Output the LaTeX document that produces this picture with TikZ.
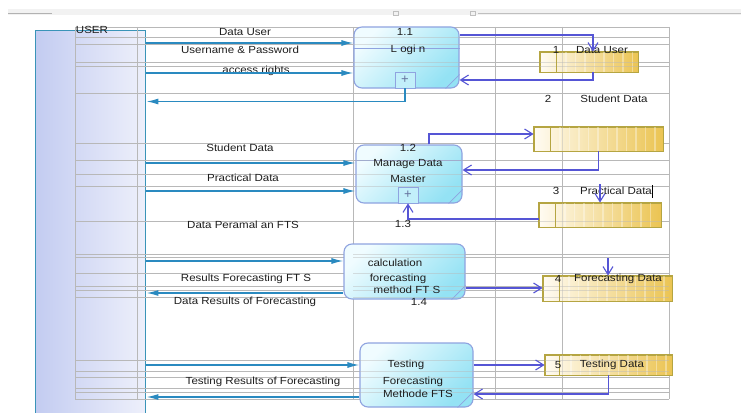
\documentclass[tikz,border=0pt]{standalone}
\usepackage{fontspec}
\setmainfont{Liberation Sans}
\usetikzlibrary{arrows.meta}
\definecolor{gridc}{HTML}{B8B8B8}
\definecolor{teal1}{HTML}{2A8AC0}
\definecolor{purp}{HTML}{5555D5}
\definecolor{procA}{HTML}{F0FCFF}
\definecolor{procB}{HTML}{94E2F4}
\definecolor{procE}{HTML}{8FA3E0}
\definecolor{storeA}{HTML}{FFFBF2}
\definecolor{storeB}{HTML}{EBC452}
\definecolor{storeE}{HTML}{B5A542}
\definecolor{userA}{HTML}{C3CCF1}
\definecolor{userB}{HTML}{EEF0FB}
\definecolor{userE}{HTML}{3A94B8}
\definecolor{txt}{HTML}{1E1E1E}
\newcommand\tx[1]{\scalebox{1.12}[1]{#1}}
\begin{document}
\begin{tikzpicture}[x=1pt,y=-1pt,
 lbl/.style={font=\fontsize{10.3}{12}\selectfont, text=txt, inner sep=0pt},
 gridln/.style={draw=gridc, line width=0.6pt},
 flow/.style={draw=teal1, line width=1.4pt, -{Latex[length=12pt,width=6pt]}},
 dflow/.style={draw=purp, line width=1.1pt, -{Straight Barb[length=8pt,width=10pt]}},
 proc/.style={draw=procE, line width=1.1pt, rounded corners=8pt, top color=procA, bottom color=procB, shading angle=45, inner sep=0pt},
 store/.style={draw=storeE, line width=0.9pt, left color=storeA, right color=storeB, inner sep=0pt},
 plusbox/.style={draw=procE, line width=0.8pt, minimum width=20pt, minimum height=16pt, inner sep=0pt, fill=procA!50!procB, text=procE!70!black, font=\fontsize{13}{13}\selectfont},
 grip/.style={draw=procE, line width=0.8pt}
]
\useasboundingbox (0,0) rectangle (741,412);
\fill[white] (0,0) rectangle (741,412);
% top bar
\fill[gray!10] (8,9) rectangle (741,15);
\draw[gray!60, line width=0.8pt] (8,13) -- (52,13);
\draw[gray!50, line width=0.6pt] (478,13) -- (741,13);
\draw[gray!50, line width=0.5pt] (393,11) rectangle (398,15) (470,11) rectangle (475,15);

% external entity
\node[draw=userE, line width=1.4pt, left color=userA, right color=userB, minimum width=110pt, minimum height=390pt, inner sep=0pt, anchor=north west] (user) at (35,30) {};

% grid
\foreach \gx in {75,137,353,495,562,669} \draw[gridln] (\gx,27) -- (\gx,399);
\foreach \gy in {27,37,44,62,66,93,143,160,174,186,221,254,257,273,286,290,297,360,371,377,388,392,399}
  \draw[gridln] (75,\gy) -- (669,\gy);

\node[lbl, anchor=north] (uname) at (92,26.5) {\tx{USER}};

% processes
\node[proc, minimum width=105pt, minimum height=61pt] (p11) at (406.5,57.5) {};
\draw[procE, line width=0.8pt] (p11.west |- 0,48) -- (p11.east |- 0,48);
\node[plusbox] (pl1) at (405,80) {+};
\draw[grip] ([xshift=-14pt]p11.south east) -- ([yshift=14pt]p11.south east);

\node[proc, minimum width=106pt, minimum height=58pt] (p12) at (409,174) {};
\draw[procE, line width=0.8pt] (p12.west |- 0,160) -- (p12.east |- 0,160);
\node[plusbox] (pl2) at (408,195) {+};
\draw[grip] ([xshift=-14pt]p12.south east) -- ([yshift=14pt]p12.south east);

\node[proc, minimum width=121pt, minimum height=55pt] (p14) at (404.5,271.5) {};
\draw[grip] ([xshift=-14pt]p14.south east) -- ([yshift=14pt]p14.south east);

\node[proc, minimum width=113pt, minimum height=64pt] (p15) at (416.5,375) {};
\draw[grip] ([xshift=-16pt]p15.south east) -- ([yshift=16pt]p15.south east);

% data stores
\node[store, minimum width=98pt, minimum height=20pt] (s1) at (589,62) {};
\node[store, minimum width=129pt, minimum height=24pt] (s2) at (598.5,139) {};
\node[store, minimum width=122pt, minimum height=24pt] (s3) at (600,215) {};
\node[store, minimum width=129pt, minimum height=25pt] (s4) at (607.5,288.5) {};
\node[store, minimum width=127pt, minimum height=20pt] (s5) at (608.5,365) {};
\foreach \s/\n in {s1/8,s2/11,s3/10,s4/11,s5/11}{
  \foreach \i in {1,...,\n}
    \draw[white, opacity=0.35, line width=1.2pt] ([xshift=17pt+\i*9.5pt]\s.north west) -- ([xshift=17pt+\i*9.5pt]\s.south west);
}

% grid seen through the shapes
\begin{scope}[opacity=0.45]
\foreach \gx in {562} \draw[gridln] (\gx,27) -- (\gx,399);
\foreach \gy in {37,44,62,66,160,174,186,221,254,257,273,286,290,297,360,371,377,388,392}
  \draw[gridln] (353,\gy) -- (669,\gy);
\end{scope}

\foreach \s in {s1,s2,s3,s4,s5}
  \draw[storeE, line width=0.9pt] (\s.north west) rectangle (\s.south east);
\foreach \s/\d in {s1/17,s2/17,s3/17,s4/17,s5/15}
  \draw[storeE, line width=0.9pt] ([xshift=\d pt]\s.north west) -- ([xshift=\d pt]\s.south west);

% labels on flows (left)
\node[lbl] (t1) at (245,32) {\tx{Data User}};
\node[lbl] (t2) at (240,50) {\tx{Username \& Password}};
\node[lbl] (t3) at (256,71) {\tx{access rights}};
\node[lbl] (t4) at (240,148) {\tx{Student Data}};
\node[lbl] (t5) at (243,178) {\tx{Practical Data}};
\node[lbl] (t6) at (243,225) {\tx{Data Peramal an FTS}};
\node[lbl] (t7) at (246,279) {\tx{Results Forecasting FT S}};
\node[lbl] (t8) at (245,302) {\tx{Data Results of Forecasting}};
\node[lbl] (t9) at (263,382) {\tx{Testing Results of Forecasting}};

% process texts
\node[lbl] (a1) at (405,32) {\tx{1.1}};
\node[lbl] (a2) at (408,50) {\tx{L ogi n}};
\node[lbl] (b1) at (408,148) {\tx{1.2}};
\node[lbl] (b2) at (408,164) {\tx{Manage Data}};
\node[lbl] (b3) at (408,179) {\tx{Master}};
\node[lbl] (b4) at (403,224) {\tx{1.3}};
\node[lbl] (c1) at (395,263) {\tx{calculation}};
\node[lbl] (c2) at (398,279) {\tx{forecasting}};
\node[lbl] (c3t) at (407,290) {\tx{method FT S}};
\node[lbl] (c4t) at (419,302) {\tx{1.4}};
\node[lbl] (d1) at (406,365) {\tx{Testing}};
\node[lbl] (d2) at (413,382) {\tx{Forecasting}};
\node[lbl] (d3) at (418,394) {\tx{Methode FTS}};

% store texts
\node[lbl] (n1) at (556,50) {\tx{1}};
\node[lbl] (m1) at (602,50) {\tx{Data User}};
\node[lbl] (n2) at (548,99) {\tx{2}};
\node[lbl] (m2) at (614,99) {\tx{Student Data}};
\node[lbl] (n3) at (556,191) {\tx{3}};
\node[lbl] (m3) at (616,191) {\tx{Practical Data}};
\draw[black, line width=0.8pt] (652,185) -- (652,198);
\node[lbl] (n4) at (558,279) {\tx{4}};
\node[lbl] (m4) at (618,279) {\tx{Forecasting Data}};
\node[lbl] (n5) at (558,365) {\tx{5}};
\node[lbl] (m5) at (612,365) {\tx{Testing Data}};

% teal flows between USER and processes
\draw[flow] (user.east |- 0,43) -- (p11.west |- 0,43);
\draw[flow] (user.east |- 0,73) -- (p11.west |- 0,73);
\draw[flow] (pl1.south) |- (user.east |- 0,101.5);
\draw[flow] (user.east |- 0,163) -- (p12.west |- 0,163);
\draw[flow] (user.east |- 0,191) -- (p12.west |- 0,191);
\draw[flow] (user.east |- 0,261) -- (p14.west |- 0,261);
\draw[flow] (p14.west |- 0,293) -- (user.east |- 0,293);
\draw[flow] (user.east |- 0,365) -- (p15.west |- 0,365);
\draw[flow] (p15.west |- 0,397) -- (user.east |- 0,397);

% purple flows between processes and stores
\coordinate (c3) at (600,184);
\coordinate (c4) at (608,258);
\draw[dflow] (p11.east |- 0,35) -| ([xshift=4pt]s1.north);
\draw[dflow] ([xshift=4pt]s1.south) |- (p11.east |- 0,80);
\draw[dflow] ([xshift=20pt]p12.north) |- ([yshift=5pt]s2.west);
\draw[dflow] (s2.south) |- (p12.east |- 0,170);
\draw[dflow] (c3) -- (s3.north);
\draw[dflow] ([yshift=-4pt]s3.west) -| (pl2.south);
\draw[dflow] (p14.east |- 0,288) -- (s4.west |- 0,288);
\draw[dflow] (c4) -- (c4 |- s4.north);
\draw[dflow] (p15.east |- 0,365) -- (s5.west);
\draw[dflow] (s5.south) |- (p15.east |- 0,394);
\end{tikzpicture}
\end{document}
